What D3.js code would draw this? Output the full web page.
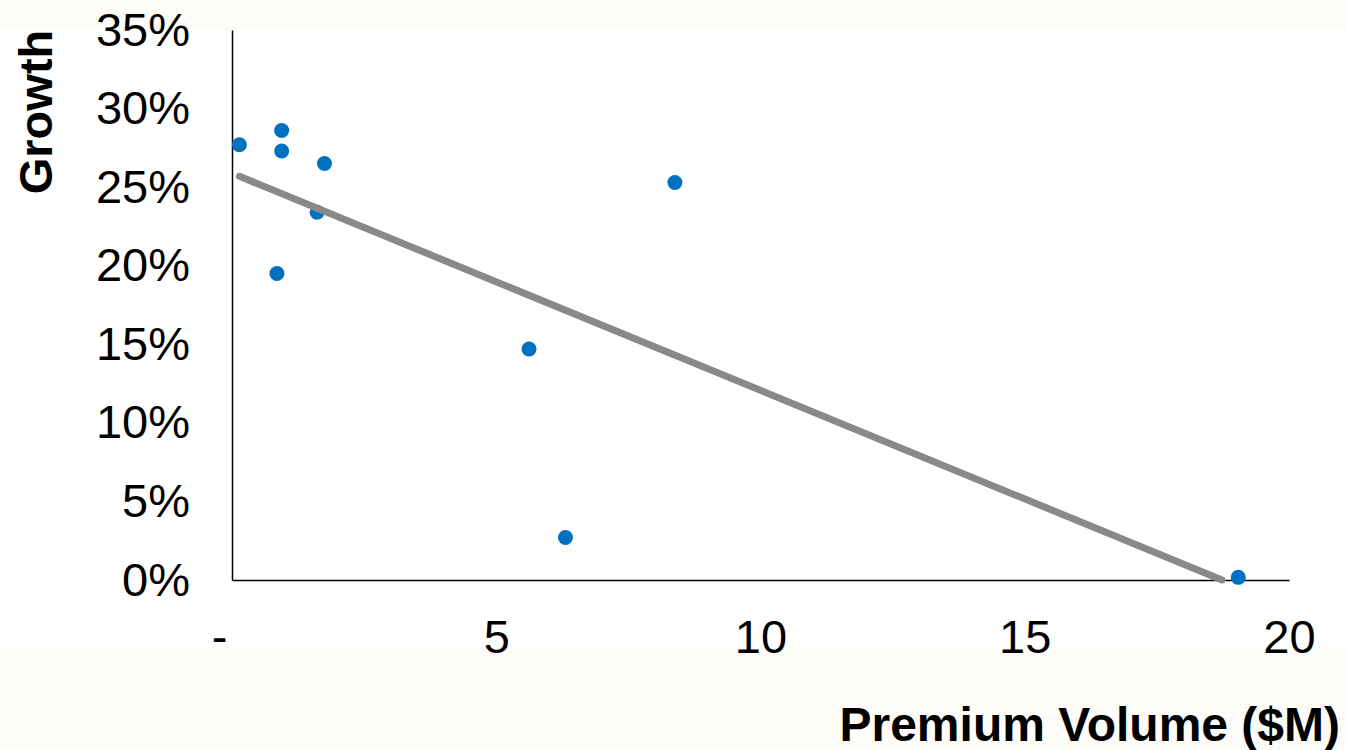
<!DOCTYPE html>
<html>
<head>
<meta charset="utf-8">
<script src="https://cdn.jsdelivr.net/npm/d3@7"></script>
<style>
  html, body { margin: 0; padding: 0; background: #fdfcf8; }
  svg { display: block; font-family: "Liberation Sans", Arial, sans-serif; }
</style>
</head>
<body>
<svg id="chart" width="1346" height="750"></svg>
<script>
// Premium volume ($M) and growth rate for each account
const premiumVolume = [0.14, 0.94, 0.94, 1.75, 1.61, 0.85, 8.38, 5.62, 6.31, 19.04];
const growthRate    = [0.277, 0.286, 0.273, 0.265, 0.234, 0.195, 0.253, 0.147, 0.027, 0.0017];

const xTicks = [0, 5, 10, 15, 20];
const yTicks = [0, 0.05, 0.10, 0.15, 0.20, 0.25, 0.30, 0.35];

const W = 1346, H = 750;
const margin = { left: 232, top: 30, right: 57, bottom: 170 };
const iw = W - margin.left - margin.right;   // 1057
const ih = H - margin.top - margin.bottom;   // 550

const svg = d3.select("#chart");

// white panel behind the chart
svg.append("rect")
  .attr("x", 0).attr("y", margin.top)
  .attr("width", W).attr("height", 617)
  .attr("fill", "#ffffff");

const x = d3.scaleLinear().domain([0, 20]).range([0, iw]);
const y = d3.scaleLinear().domain([0, 0.35]).range([ih, 0]);

const g = svg.append("g").attr("transform", `translate(${margin.left},${margin.top})`);

// axes
const yAxis = g.append("g")
  .call(d3.axisLeft(y).tickValues(yTicks).tickSize(0).tickSizeOuter(0).tickPadding(42)
    .tickFormat(d3.format(".0%")));
const xAxis = g.append("g")
  .attr("transform", `translate(0,${ih})`)
  .call(d3.axisBottom(x).tickValues(xTicks).tickSize(0).tickSizeOuter(0).tickPadding(40)
    .tickFormat(d => d === 0 ? "-" : d3.format(",.0f")(d)));

[yAxis, xAxis].forEach(a => {
  a.select(".domain").attr("stroke", "#000").attr("stroke-width", 1.5);
  a.selectAll("text")
    .attr("font-family", "'Liberation Sans', Arial, sans-serif")
    .attr("font-size", 47)
    .attr("fill", "#000");
});
xAxis.selectAll(".tick text").filter(d => d === 0).attr("dx", -13);

// data points
const pts = premiumVolume.map((v, i) => ({ v, g: growthRate[i] }));
g.append("g").selectAll("circle")
  .data(pts)
  .join("circle")
  .attr("cx", d => x(d.v))
  .attr("cy", d => y(d.g))
  .attr("r", 7.5)
  .attr("fill", "#0070c0");

// least-squares linear trend line over the data range, clipped at 0%
const mx = d3.mean(pts, d => d.v), my = d3.mean(pts, d => d.g);
const slope = d3.sum(pts, d => (d.v - mx) * (d.g - my)) / d3.sum(pts, d => (d.v - mx) ** 2);
const intercept = my - slope * mx;
const x0 = d3.min(premiumVolume);
let x1 = d3.max(premiumVolume);
if (intercept + slope * x1 < 0) x1 = -intercept / slope;
const trend = [[x0, intercept + slope * x0], [x1, intercept + slope * x1]];
g.append("path")
  .datum(trend)
  .attr("d", d3.line().x(d => x(d[0])).y(d => y(d[1])))
  .attr("fill", "none")
  .attr("stroke", "#898989")
  .attr("stroke-width", 7)
  .attr("stroke-linecap", "round");

// axis titles
svg.append("text")
  .attr("transform", "translate(52,112) rotate(-90)")
  .attr("text-anchor", "middle")
  .attr("font-size", 47)
  .attr("font-weight", "bold")
  .attr("fill", "#000")
  .text("Growth");

svg.append("text")
  .attr("x", 1340).attr("y", 741)
  .attr("text-anchor", "end")
  .attr("font-size", 48)
  .attr("font-weight", "bold")
  .attr("fill", "#000")
  .text("Premium Volume ($M)");
</script>
</body>
</html>
